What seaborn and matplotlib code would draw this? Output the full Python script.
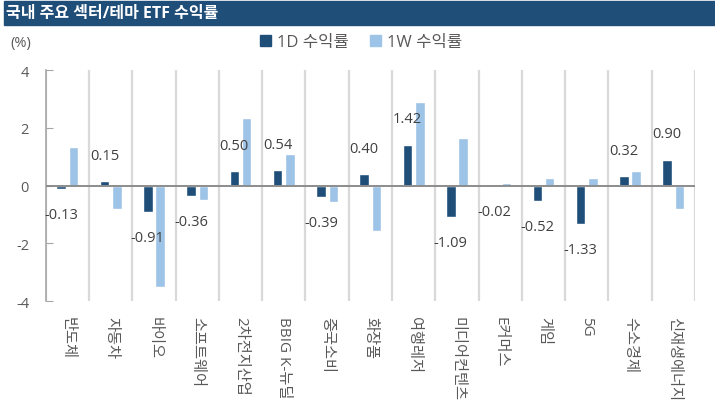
import pandas as pd
import matplotlib.pyplot as plt
import seaborn as sns
from matplotlib.patches import Patch, Rectangle

# 데이터
categories = ['반도체', '자동차', '바이오', '소프트웨어', '2차전지산업', 'BBIG K-뉴딜', '중국소비',
              '화장품', '여행레저', '미디어컨텐츠', 'E커머스', '게임', '5G', '수소경제', '신재생에너지']
ret_1d = [-0.13, 0.15, -0.91, -0.36, 0.50, 0.54, -0.39, 0.40, 1.42, -1.09, -0.02, -0.52, -1.33, 0.32, 0.90]
ret_1w = [1.32, -0.81, -3.51, -0.51, 2.34, 1.10, -0.58, -1.58, 2.89, 1.63, 0.10, 0.27, 0.25, 0.51, -0.81]
series = ['1D 수익률', '1W 수익률']
yticks = [-4, -2, 0, 2, 4]

dark = '#1F4E79'
light = '#9DC3E6'
txt = '#595959'

df = pd.DataFrame({
    'sector': categories * 2,
    'series': [series[0]] * len(categories) + [series[1]] * len(categories),
    'value': ret_1d + ret_1w,
})

sns.set_style('white')
plt.rcParams['font.family'] = ['Open Sans', 'Noto Sans CJK KR', 'DejaVu Sans']

fig = plt.figure(figsize=(7.15, 4.14), dpi=100)
ax = fig.add_axes([0.064, 0.2705, 0.908, 0.558])

sns.barplot(data=df, x='sector', y='value', hue='series', palette=[dark, light],
            width=0.57, gap=0.23, legend=False, ax=ax, saturation=1)

# 세로 구분선
for i in range(len(categories) + 1):
    ax.axvline(i - 0.5, color='#D9D9D9', lw=1.6, zorder=0)
ax.axhline(0, color='#8C8C8C', lw=1.4, zorder=3)

ax.set_xlim(-0.5, len(categories) - 0.5)
ax.set_ylim(-4, 4)
ax.set_yticks(yticks)
ax.set_yticklabels([str(t) for t in yticks], fontsize=10.5, color=txt)
ax.tick_params(axis='y', direction='in', length=5, color='#A6A6A6', pad=12, left=True)
ax.tick_params(axis='x', length=0, pad=11)
ax.set_xticks(range(len(categories)))
ax.set_xticklabels(categories, rotation=270, fontsize=11, color=txt, va='top', ha='center')
ax.set_xlabel('')
ax.set_ylabel('')
for s in ['top', 'right', 'bottom']:
    ax.spines[s].set_visible(False)
ax.spines['left'].set_color('#A6A6A6')
ax.spines['left'].set_linewidth(1.2)

# 1D 데이터 레이블
for bar, v in zip(ax.containers[0], ret_1d):
    cx = bar.get_x() + bar.get_width() / 2
    off = 18.5 if v > 0 else -18.5
    ax.annotate(f'{v:.2f}', (cx, v), xytext=(0, off), textcoords='offset points',
                ha='center', va='center', fontsize=10.5, color='#404040')

# 제목 바
fig.patches.append(Rectangle((4 / 715, 1 - 26 / 414), 711 / 715, 24 / 414,
                             transform=fig.transFigure, color=dark, zorder=0))
fig.text(6 / 715, 1 - 14 / 414, '국내 주요 섹터/테마 ETF 수익률', color='white',
         fontsize=11.5, fontweight='bold', va='center', ha='left')
fig.text(10 / 715, 1 - 44 / 414, '(%)', color=txt, fontsize=10.5, va='center', ha='left')

handles = [Patch(color=dark, label=series[0]), Patch(color=light, label=series[1])]
fig.legend(handles=handles, loc='center', bbox_to_anchor=(361 / 715, 1 - 43 / 414), ncol=2,
           frameon=False, fontsize=12, handlelength=0.65, handleheight=0.65,
           handletextpad=0.35, columnspacing=1.3, labelcolor=txt)

fig.savefig('out.png', dpi=100)
